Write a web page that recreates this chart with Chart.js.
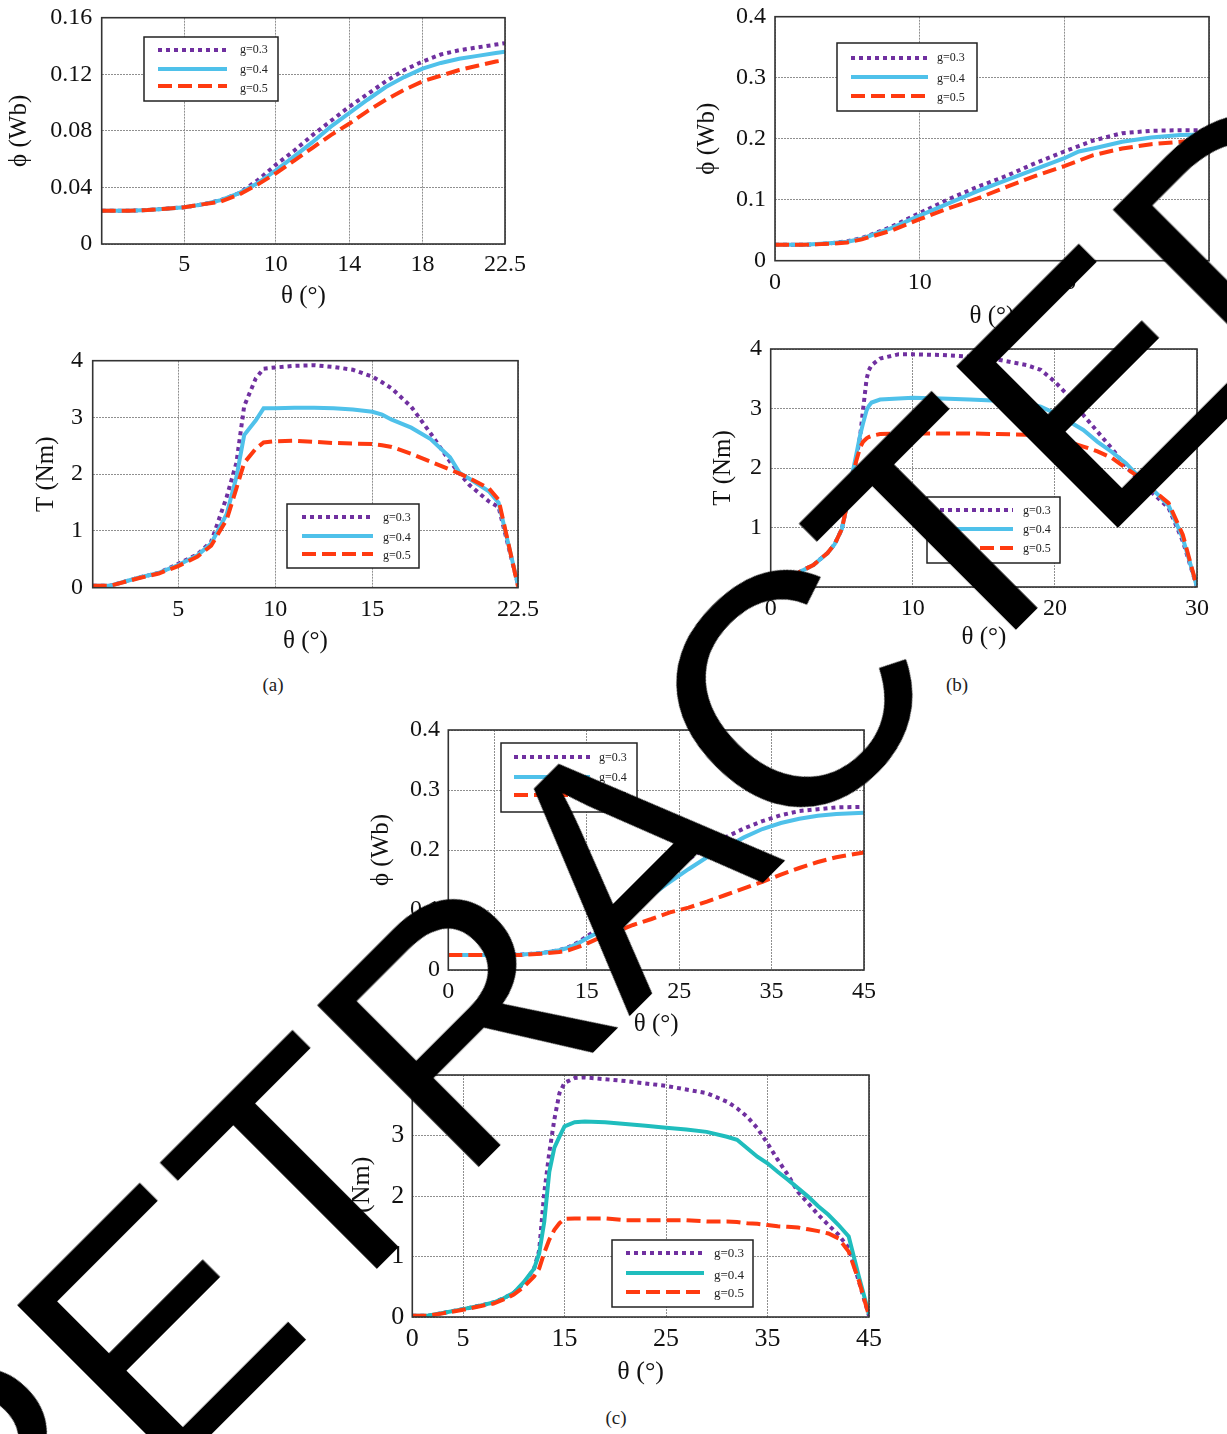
<!DOCTYPE html>
<html>
<head>
<meta charset="utf-8">
<script src="https://cdn.jsdelivr.net/npm/chart.js@4.4.1/dist/chart.umd.min.js"></script>
<style>
  html, body { margin: 0; padding: 0; background: #fff; }
  #page { position: relative; width: 1227px; height: 1434px; overflow: hidden; background: #fff; }
  .box { position: absolute; }
  .cap { position: absolute; font-family: "Liberation Serif", serif; font-size: 19px; color: #222; transform: translate(-50%, -50%); }
  #wm { position: absolute; left: 626px; top: 857px; transform: translate(-50%, -50%) rotate(-45deg);
        font-family: "Liberation Sans", Arial, sans-serif; font-size: 332px; line-height: 1; color: #000;
        white-space: nowrap; z-index: 10; }
</style>
</head>
<body>
<div id="page">
  <div class="box" id="wa1"><canvas id="a1"></canvas></div>
  <div class="box" id="wa2"><canvas id="a2"></canvas></div>
  <div class="box" id="wb1"><canvas id="b1"></canvas></div>
  <div class="box" id="wb2"><canvas id="b2"></canvas></div>
  <div class="box" id="wc1"><canvas id="c1"></canvas></div>
  <div class="box" id="wc2"><canvas id="c2"></canvas></div>
  <div class="cap" style="left:273px;top:685px">(a)</div>
  <div class="cap" style="left:957px;top:685px">(b)</div>
  <div class="cap" style="left:616px;top:1418px">(c)</div>
  <div id="wm">RETRACTED</div>
</div>
<script>
// ---- data ----
const gLabels = ['g=0.3', 'g=0.4', 'g=0.5'];

// (a) flux
const thetaA1 = [0.5, 1, 2, 3, 4, 5, 6, 7, 8, 9, 10, 11, 12, 13, 14, 15, 16, 17, 18, 19, 20, 21, 22, 22.5];
const phiA_g3 = [0.0235, 0.0235, 0.0235, 0.024, 0.025, 0.026, 0.028, 0.031, 0.036, 0.045, 0.056, 0.066, 0.077, 0.087, 0.097, 0.106, 0.115, 0.123, 0.129, 0.134, 0.137, 0.139, 0.141, 0.142];
const phiA_g4 = [0.0235, 0.0235, 0.0235, 0.024, 0.025, 0.026, 0.028, 0.031, 0.036, 0.043, 0.052, 0.062, 0.072, 0.083, 0.0925, 0.102, 0.111, 0.118, 0.124, 0.128, 0.131, 0.133, 0.135, 0.136];
const phiA_g5 = [0.0235, 0.0235, 0.0235, 0.024, 0.025, 0.026, 0.028, 0.030, 0.035, 0.042, 0.050, 0.059, 0.068, 0.077, 0.085, 0.094, 0.102, 0.109, 0.115, 0.119, 0.123, 0.126, 0.129, 0.130];

// (a) torque
const thetaA2 = [0.6, 1.5, 3, 4, 5, 6, 6.7, 7.5, 8, 8.4, 9, 9.4, 10, 11, 12, 13, 14, 15, 15.5, 16, 17, 18, 19, 19.5, 20, 21, 21.5, 22.5];
const torA_g3 = [0.035, 0.035, 0.18, 0.26, 0.42, 0.59, 0.81, 1.6, 2.2, 3.2, 3.69, 3.86, 3.88, 3.91, 3.92, 3.89, 3.84, 3.72, 3.62, 3.51, 3.19, 2.72, 2.22, 2.01, 1.81, 1.52, 1.42, 0.05];
const torA_g4 = [0.035, 0.035, 0.18, 0.26, 0.40, 0.57, 0.78, 1.3, 1.95, 2.69, 2.95, 3.16, 3.16, 3.17, 3.17, 3.16, 3.14, 3.10, 3.05, 2.96, 2.82, 2.62, 2.3, 2.02, 1.92, 1.7, 1.5, 0.05];
const torA_g5 = [0.035, 0.035, 0.17, 0.25, 0.38, 0.55, 0.74, 1.2, 1.75, 2.2, 2.45, 2.56, 2.58, 2.59, 2.57, 2.55, 2.54, 2.53, 2.51, 2.48, 2.36, 2.22, 2.08, 2.01, 1.93, 1.75, 1.55, 0.02];

// (b) flux
const thetaB1 = [0, 2, 4, 5, 6, 8, 10, 12, 14, 16, 18, 20, 21, 22, 24, 26, 28, 30];
const phiB_g3 = [0.026, 0.026, 0.029, 0.032, 0.037, 0.055, 0.078, 0.101, 0.121, 0.139, 0.160, 0.179, 0.188, 0.197, 0.209, 0.213, 0.214, 0.214];
const phiB_g4 = [0.026, 0.026, 0.029, 0.031, 0.036, 0.053, 0.074, 0.094, 0.114, 0.132, 0.150, 0.168, 0.179, 0.184, 0.195, 0.202, 0.206, 0.207];
const phiB_g5 = [0.026, 0.026, 0.028, 0.030, 0.035, 0.049, 0.068, 0.086, 0.102, 0.121, 0.139, 0.155, 0.164, 0.173, 0.184, 0.191, 0.195, 0.199];

// (b) torque
const thetaB2 = [0, 1, 2, 3, 4, 4.5, 5, 5.3, 5.7, 6, 6.3, 6.5, 6.75, 6.9, 7.1, 7.7, 9, 10, 12, 14, 16, 18, 19, 20, 21, 22, 23, 24, 25, 26, 27, 28, 29, 30];
const torB_g3 = [0, 0.1, 0.25, 0.37, 0.57, 0.72, 0.97, 1.3, 1.85, 2.12, 2.55, 2.98, 3.5, 3.64, 3.73, 3.84, 3.91, 3.91, 3.9, 3.87, 3.82, 3.73, 3.65, 3.45, 3.2, 2.89, 2.61, 2.33, 2.03, 1.77, 1.55, 1.33, 0.77, 0];
const torB_g4 = [0, 0.1, 0.25, 0.37, 0.57, 0.72, 0.97, 1.3, 1.85, 2.2, 2.56, 2.75, 2.97, 3.04, 3.1, 3.15, 3.17, 3.18, 3.17, 3.15, 3.13, 3.09, 3.03, 2.92, 2.78, 2.64, 2.44, 2.27, 2.08, 1.83, 1.61, 1.37, 0.82, 0];
const torB_g5 = [0, 0.1, 0.25, 0.37, 0.57, 0.72, 0.97, 1.3, 1.8, 2.1, 2.35, 2.44, 2.5, 2.52, 2.54, 2.57, 2.58, 2.58, 2.58, 2.58, 2.57, 2.56, 2.53, 2.51, 2.44, 2.36, 2.28, 2.17, 2.0, 1.83, 1.61, 1.41, 0.88, 0];

// (c) flux
const thetaC1 = [0, 5, 8, 10, 12, 13, 14, 15, 16, 18, 20, 22, 24, 26, 28, 30, 32, 34, 36, 38, 40, 42, 45];
const phiC_g3 = [0.025, 0.025, 0.026, 0.028, 0.033, 0.038, 0.046, 0.056, 0.066, 0.086, 0.110, 0.135, 0.160, 0.185, 0.205, 0.221, 0.236, 0.248, 0.258, 0.265, 0.268, 0.271, 0.272];
const phiC_g4 = [0.025, 0.025, 0.026, 0.028, 0.033, 0.037, 0.044, 0.053, 0.061, 0.080, 0.103, 0.125, 0.147, 0.168, 0.188, 0.204, 0.221, 0.235, 0.245, 0.252, 0.257, 0.260, 0.262];
const phiC_g5 = [0.025, 0.025, 0.025, 0.027, 0.030, 0.033, 0.038, 0.044, 0.051, 0.063, 0.075, 0.085, 0.096, 0.104, 0.114, 0.125, 0.136, 0.147, 0.159, 0.170, 0.180, 0.188, 0.196];

// (c) torque
const thetaC2 = [0, 1.5, 3, 5, 7, 8, 9, 10, 11, 12, 12.5, 13, 13.5, 14, 14.5, 15, 16, 17, 19, 21, 23, 25, 27, 29, 31, 32, 33, 34, 35, 36, 37, 38, 39, 40, 41, 42, 43, 44, 45];
const torC_g3 = [0.02, 0.02, 0.066, 0.13, 0.2, 0.24, 0.31, 0.40, 0.56, 0.80, 1.1, 2.05, 2.72, 3.27, 3.7, 3.87, 3.95, 3.96, 3.93, 3.90, 3.86, 3.82, 3.76, 3.70, 3.56, 3.45, 3.31, 3.12, 2.87, 2.6, 2.35, 2.07, 1.88, 1.69, 1.52, 1.36, 1.14, 0.59, 0.02];
const torC_g4 = [0.02, 0.02, 0.066, 0.13, 0.2, 0.24, 0.31, 0.40, 0.58, 0.80, 1.05, 1.57, 2.4, 2.8, 2.98, 3.15, 3.22, 3.23, 3.22, 3.19, 3.16, 3.13, 3.10, 3.06, 2.98, 2.93, 2.79, 2.65, 2.54, 2.4, 2.27, 2.13, 1.99, 1.83, 1.69, 1.52, 1.33, 0.67, 0.05];
const torC_g5 = [0.02, 0.02, 0.06, 0.12, 0.19, 0.22, 0.29, 0.37, 0.5, 0.67, 0.8, 1.06, 1.28, 1.44, 1.55, 1.62, 1.63, 1.63, 1.63, 1.6, 1.6, 1.6, 1.6, 1.58, 1.58, 1.57, 1.55, 1.54, 1.52, 1.5, 1.49, 1.48, 1.45, 1.42, 1.38, 1.3, 1.08, 0.6, 0.02];

// tick values / labels
const xTicksA1 = [5, 10, 14, 18, 22.5];
const xTicksA2 = [5, 10, 15, 22.5];
const xTicksB = [0, 10, 20, 30];
const xTicksC = [0, 5, 15, 25, 35, 45];
const yTicksPhiA = [0, 0.04, 0.08, 0.12, 0.16];
const yLabelsPhiA = ['0', '0.04', '0.08', '0.12', '0.16'];
const yTicksPhi = [0, 0.1, 0.2, 0.3, 0.4];
const yLabelsPhi = ['0', '0.1', '0.2', '0.3', '0.4'];
const yTicksT = [0, 1, 2, 3, 4];
const yLabelsT = ['0', '1', '2', '3', '4'];

// ---- styling ----
const PURPLE = '#7030a0', BLUE = '#4fc1ea', RED = '#ff3a10', TEAL = '#1fbdbd';
const SERIF = '"Liberation Serif", "Times New Roman", serif';

function pts(xs, ys) { return xs.map((x, i) => ({ x: x, y: ys[i] })); }

function series(xs, y3, y4, y5, midColor) {
  return [
    { label: gLabels[0], data: pts(xs, y3), borderColor: PURPLE, borderWidth: 4, borderDash: [4, 4], order: 3 },
    { label: gLabels[1], data: pts(xs, y4), borderColor: midColor || BLUE, borderWidth: 4, order: 2 },
    { label: gLabels[2], data: pts(xs, y5), borderColor: RED, borderWidth: 4, borderDash: [14, 6], order: 1 }
  ];
}

// frame + in-plot legend box
const framePlugin = {
  id: 'frameLegend',
  afterDatasetsDraw(chart, args, opts) {
    const ctx = chart.ctx, a = chart.chartArea;
    ctx.save();
    ctx.strokeStyle = '#333';
    ctx.lineWidth = 1.6;
    ctx.setLineDash([]);
    ctx.strokeRect(a.left, a.top, a.right - a.left, a.bottom - a.top);
    const lg = opts.legend;
    if (lg) {
      const ox = opts.ox, oy = opts.oy;
      const [l, t, r, b] = lg.box;
      ctx.fillStyle = '#fff';
      ctx.fillRect(l - ox, t - oy, r - l, b - t);
      ctx.strokeStyle = '#222';
      ctx.lineWidth = 1.5;
      ctx.strokeRect(l - ox, t - oy, r - l, b - t);
      chart.data.datasets.forEach((ds, i) => {
        ctx.strokeStyle = ds.borderColor;
        ctx.lineWidth = ds.borderWidth;
        ctx.setLineDash(ds.borderDash || []);
        ctx.beginPath();
        ctx.moveTo(lg.x1 - ox, lg.rows[i] - oy);
        ctx.lineTo(lg.x2 - ox, lg.rows[i] - oy);
        ctx.stroke();
        ctx.setLineDash([]);
        ctx.fillStyle = '#222';
        ctx.font = lg.size + 'px ' + SERIF;
        ctx.textBaseline = 'middle';
        ctx.textAlign = 'left';
        ctx.fillText(ds.label, lg.tx - ox, lg.trows[i] - oy);
      });
    }
    ctx.restore();
  }
};

function makeChart(id, s) {
  const [L, T, R, B] = s.plot;
  const cx = Math.round(s.yTitleX - 22);
  const cy = Math.round(T) - 22;
  const cw = Math.round(R + 40 - cx);
  const ch = Math.round(s.xTitleY + 22 - cy);
  const yW = L - cx;
  const xH = (cy + ch) - B;
  const wrap = document.getElementById('w' + id);
  wrap.style.left = cx + 'px';
  wrap.style.top = cy + 'px';
  const cv = document.getElementById(id);
  cv.width = cw; cv.height = ch;
  cv.style.width = cw + 'px'; cv.style.height = ch + 'px';
  const tSize = s.titleSize || 25;
  const kSize = s.tickSize || 24;
  const gridOpts = { color: '#8f8f8f', lineWidth: 1, drawTicks: false };
  new Chart(cv, {
    type: 'line',
    data: { datasets: s.datasets },
    options: {
      responsive: false,
      animation: false,
      devicePixelRatio: 1,
      layout: { padding: { left: 0, top: T - cy, right: 40, bottom: 0 } },
      elements: { point: { radius: 0 }, line: { tension: 0, fill: false, borderCapStyle: 'butt' } },
      plugins: {
        legend: { display: false },
        tooltip: { enabled: false },
        frameLegend: { legend: s.legend, ox: cx, oy: cy }
      },
      scales: {
        x: {
          type: 'linear',
          min: s.xMin, max: s.xMax,
          grid: gridOpts,
          border: { display: false, dash: [2, 1] },
          afterBuildTicks: (sc) => { sc.ticks = s.xTicks.map(v => ({ value: v })); },
          afterFit: (sc) => { sc.height = xH; },
          ticks: {
            autoSkip: false, maxRotation: 0, minRotation: 0,
            padding: s.xPad, color: '#111',
            font: { family: SERIF, size: kSize, lineHeight: 1 },
            callback: (v) => String(v)
          },
          title: {
            display: true, text: 'θ (°)', color: '#111',
            font: { family: SERIF, size: tSize, lineHeight: 1 },
            padding: { top: 0, bottom: 22 - tSize / 2 }
          }
        },
        y: {
          type: 'linear',
          min: s.yTicks[0], max: s.yTicks[s.yTicks.length - 1],
          grid: gridOpts,
          border: { display: false, dash: [2, 1] },
          afterBuildTicks: (sc) => { sc.ticks = s.yTicks.map(v => ({ value: v })); },
          afterFit: (sc) => { sc.width = yW; },
          ticks: {
            padding: s.yPad, color: '#111',
            font: { family: SERIF, size: kSize, lineHeight: 1 },
            callback: (v, i) => s.yLabels[i]
          },
          title: {
            display: true, text: s.yTitle, color: '#111',
            font: { family: SERIF, size: tSize, lineHeight: 1 },
            padding: { top: (s.yTitleX - cx) - tSize / 2, bottom: 0 }
          }
        }
      }
    },
    plugins: [framePlugin]
  });
}

makeChart('a1', {
  plot: [101.7, 17.7, 505, 244], xMin: 0.5, xMax: 22.5, xTicks: xTicksA1,
  yTicks: yTicksPhiA, yLabels: yLabelsPhiA, yTitle: 'ϕ (Wb)',
  xPad: 9, yPad: 9.4, yTitleX: 19, xTitleY: 296,
  legend: { box: [144, 37, 278, 101], x1: 158, x2: 227, tx: 240, rows: [50, 69, 86], trows: [50, 70, 89], size: 12 },
  datasets: series(thetaA1, phiA_g3, phiA_g4, phiA_g5)
});
makeChart('a2', {
  plot: [92.7, 360.7, 518, 587.7], xMin: 0.6, xMax: 22.5, xTicks: xTicksA2,
  yTicks: yTicksT, yLabels: yLabelsT, yTitle: 'T (Nm)',
  xPad: 10, yPad: 9.7, yTitleX: 46, xTitleY: 640.5,
  legend: { box: [287, 504, 419, 568], x1: 302, x2: 373, tx: 383, rows: [517, 536, 554], trows: [518, 538, 556], size: 12 },
  datasets: series(thetaA2, torA_g3, torA_g4, torA_g5)
});
makeChart('b1', {
  plot: [775, 16.7, 1209, 260.7], xMin: 0, xMax: 30, xTicks: xTicksB,
  yTicks: yTicksPhi, yLabels: yLabelsPhi, yTitle: 'ϕ (Wb)',
  xPad: 9.8, yPad: 9, yTitleX: 707, xTitleY: 316,
  legend: { box: [837, 43, 977, 111], x1: 851, x2: 928, tx: 937, rows: [58, 77, 96], trows: [58, 79, 98], size: 12 },
  datasets: series(thetaB1, phiB_g3, phiB_g4, phiB_g5)
});
makeChart('b2', {
  plot: [770.7, 349, 1197, 587], xMin: 0, xMax: 30, xTicks: xTicksB,
  yTicks: yTicksT, yLabels: yLabelsT, yTitle: 'T (Nm)',
  xPad: 9.5, yPad: 8.7, yTitleX: 723, xTitleY: 637,
  legend: { box: [927, 497, 1060, 563], x1: 940, x2: 1013, tx: 1023, rows: [510, 529, 548], trows: [511, 530, 549], size: 12 },
  datasets: series(thetaB2, torB_g3, torB_g4, torB_g5)
});
makeChart('c1', {
  plot: [448.3, 730, 864, 970], xMin: 0, xMax: 45, xTicks: xTicksC,
  yTicks: yTicksPhi, yLabels: yLabelsPhi, yTitle: 'ϕ (Wb)',
  xPad: 9.5, yPad: 8.3, yTitleX: 381, xTitleY: 1024,
  legend: { box: [501, 743, 637, 812], x1: 514, x2: 590, tx: 599, rows: [757, 777, 795], trows: [758, 778, 797], size: 12 },
  datasets: series(thetaC1, phiC_g3, phiC_g4, phiC_g5)
});
makeChart('c2', {
  plot: [412.3, 1075, 869.3, 1317], xMin: 0, xMax: 45, xTicks: xTicksC,
  yTicks: yTicksT, yLabels: yLabelsT, yTitle: 'T (Nm)',
  xPad: 9, yPad: 8, yTitleX: 362, xTitleY: 1372, tickSize: 26, titleSize: 26,
  legend: { box: [612, 1240, 753, 1307], x1: 626, x2: 704, tx: 714, rows: [1253, 1273, 1292], trows: [1254, 1276, 1294], size: 13 },
  datasets: series(thetaC2, torC_g3, torC_g4, torC_g5, TEAL)
});
</script>
</body>
</html>
